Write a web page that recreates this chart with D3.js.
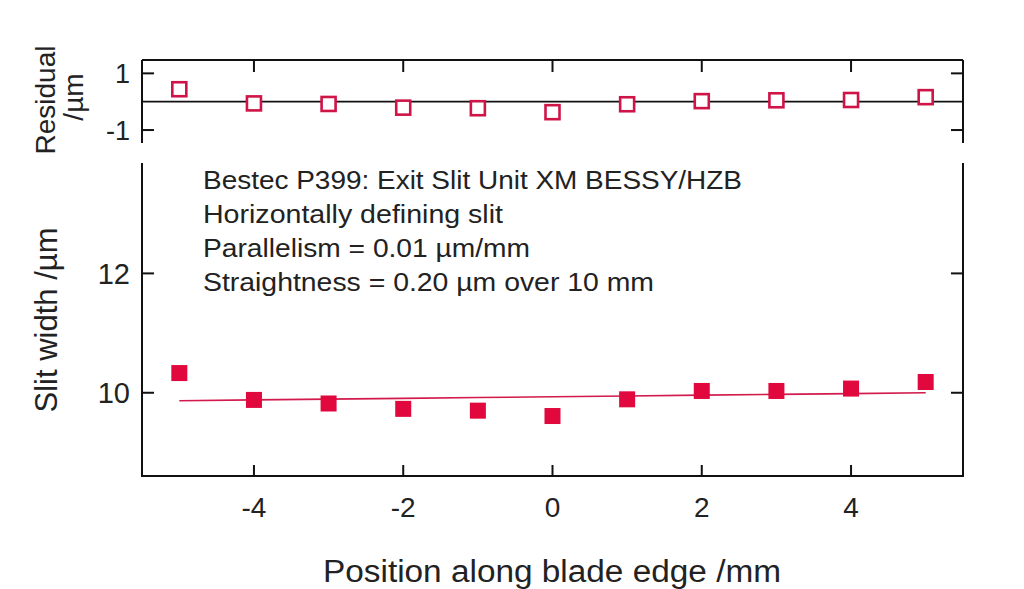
<!DOCTYPE html>
<html><head><meta charset="utf-8">
<script src="https://cdn.jsdelivr.net/npm/d3@7/dist/d3.min.js"></script>
<style>
body{margin:0;background:#fff;}
text{font-family:"Liberation Sans","Helvetica Neue",Arial,sans-serif;fill:#222;}
</style></head>
<body><svg id="c" width="1024" height="589"></svg>
<script>
const positions = [-5,-4,-3,-2,-1,0,1,2,3,4,5];
const slitWidth = [10.33,9.88,9.82,9.73,9.70,9.61,9.89,10.03,10.03,10.07,10.18];
const fitWidth = [9.866,9.880,9.893,9.906,9.920,9.933,9.946,9.960,9.973,9.986,10.0];
const residuals = [0.44,-0.06,-0.08,-0.21,-0.23,-0.37,-0.09,0.02,0.05,0.06,0.16];
const xTicks = [-4,-2,0,2,4];
const yTicksMain = [10,12];
const yTicksRes = [-1,1];
const notes = ["Bestec P399: Exit Slit Unit XM BESSY/HZB","Horizontally defining slit","Parallelism = 0.01 µm/mm","Straightness = 0.20 µm over 10 mm"];
const noteWidths = [539,300,327,451];

const svg = d3.select("#c");
const L=142, R=963;
const x = d3.scaleLinear().domain([-5.5,5.5]).range([L,R]);
const yR = d3.scaleLinear().domain([-1.5,1.5]).range([144.2,59.2]);
const yM = d3.scaleLinear().domain([8.605,13.85]).range([476,163]);
const red="#e0083c", redOpen="#cf1447", redLine="#d21a4c";

// Residual panel frame
svg.append("line").attr("x1",L).attr("x2",R).attr("y1",60).attr("y2",60).attr("stroke","#111").attr("stroke-width",2);
svg.append("line").attr("x1",L).attr("x2",L).attr("y1",60).attr("y2",143).attr("stroke","#111").attr("stroke-width",2);
svg.append("line").attr("x1",R).attr("x2",R).attr("y1",60).attr("y2",143).attr("stroke","#111").attr("stroke-width",2);
svg.append("line").attr("x1",L).attr("x2",R).attr("y1",yR(0)).attr("y2",yR(0)).attr("stroke","#111").attr("stroke-width",1.8);
xTicks.forEach(t=>svg.append("line").attr("x1",x(t)).attr("x2",x(t)).attr("y1",60).attr("y2",72).attr("stroke","#111").attr("stroke-width",2));
yTicksRes.forEach(t=>{
  svg.append("line").attr("x1",L).attr("x2",L+12).attr("y1",yR(t)).attr("y2",yR(t)).attr("stroke","#111").attr("stroke-width",2);
  svg.append("line").attr("x1",R).attr("x2",R-12).attr("y1",yR(t)).attr("y2",yR(t)).attr("stroke","#111").attr("stroke-width",2);
  svg.append("text").attr("x",L-12).attr("y",yR(t)).attr("dy","0.36em").attr("text-anchor","end").attr("font-size",27).text(t);
});
svg.selectAll(".res").data(positions).enter().append("rect")
  .attr("x",(d)=>x(d)-7).attr("y",(d,i)=>yR(residuals[i])-7).attr("width",14).attr("height",14)
  .attr("fill","#fff").attr("stroke",redOpen).attr("stroke-width",2.6);
svg.append("text").attr("transform","translate(55,100) rotate(-90)").attr("text-anchor","middle").attr("font-size",28).text("Residual");
svg.append("text").attr("transform","translate(83,97) rotate(-90)").attr("text-anchor","middle").attr("font-size",28).text("/µm");

// Main panel frame
svg.append("line").attr("x1",L).attr("x2",R).attr("y1",476).attr("y2",476).attr("stroke","#111").attr("stroke-width",2);
svg.append("line").attr("x1",L).attr("x2",L).attr("y1",163).attr("y2",477).attr("stroke","#111").attr("stroke-width",2);
svg.append("line").attr("x1",R).attr("x2",R).attr("y1",163).attr("y2",477).attr("stroke","#111").attr("stroke-width",2);
xTicks.forEach(t=>{
  svg.append("line").attr("x1",x(t)).attr("x2",x(t)).attr("y1",476).attr("y2",465).attr("stroke","#111").attr("stroke-width",2);
  svg.append("text").attr("x",x(t)).attr("y",507).attr("dy","0.36em").attr("text-anchor","middle").attr("font-size",28).text(t);
});
yTicksMain.forEach(t=>{
  svg.append("line").attr("x1",L).attr("x2",L+12).attr("y1",yM(t)).attr("y2",yM(t)).attr("stroke","#111").attr("stroke-width",2);
  svg.append("line").attr("x1",R).attr("x2",R-12).attr("y1",yM(t)).attr("y2",yM(t)).attr("stroke","#111").attr("stroke-width",2);
  svg.append("text").attr("x",L-12).attr("y",yM(t)).attr("dy","0.36em").attr("text-anchor","end").attr("font-size",29).text(t);
});
const line = d3.line().x((d,i)=>x(positions[i])).y(d=>yM(d));
svg.append("path").datum(fitWidth).attr("d",line).attr("fill","none").attr("stroke",redLine).attr("stroke-width",1.6);
svg.selectAll(".pt").data(positions).enter().append("rect")
  .attr("x",(d)=>x(d)-8).attr("y",(d,i)=>yM(slitWidth[i])-8).attr("width",16).attr("height",16)
  .attr("fill",red);
svg.append("text").attr("transform","translate(57,320) rotate(-90)").attr("text-anchor","middle").attr("font-size",31).text("Slit width /µm");
svg.append("text").attr("x",552).attr("y",571).attr("dy","0.36em").attr("text-anchor","middle").attr("font-size",31)
  .attr("textLength",458).attr("lengthAdjust","spacingAndGlyphs").text("Position along blade edge /mm");

notes.forEach((n,i)=>svg.append("text").attr("x",203).attr("y",180+i*34).attr("dy","0.36em").attr("font-size",26)
  .attr("textLength",noteWidths[i]).attr("lengthAdjust","spacingAndGlyphs").text(n));
</script></body></html>
